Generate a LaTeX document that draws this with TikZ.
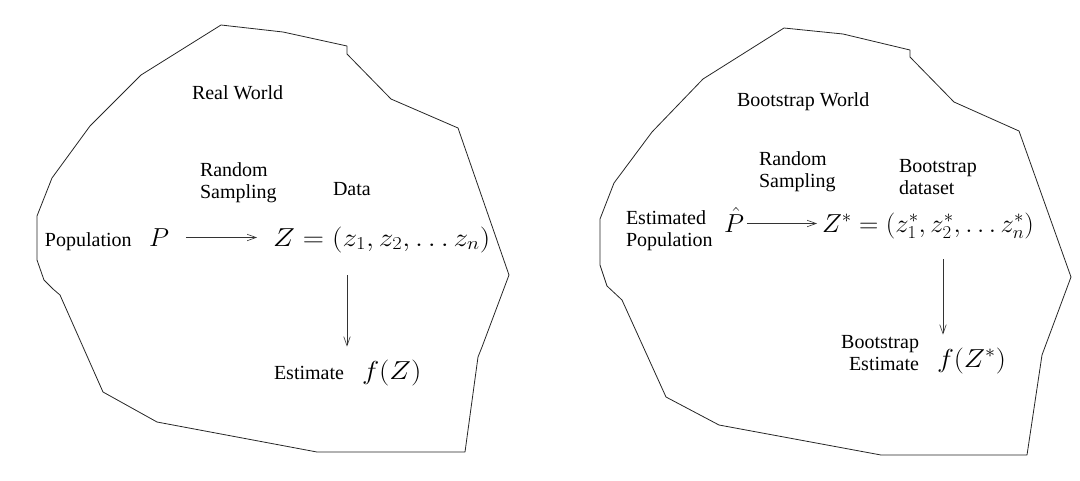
\RequirePackage{fix-cm}
\documentclass[tikz,border=0pt]{standalone}
\usepackage{graphicx}
\usepackage[no-math]{fontspec}
\setmainfont{Liberation Serif}
\newfontfamily\timesfont{Liberation Serif}
\usetikzlibrary{arrows.meta}
\tikzset{
  world/.style={draw=black!85, line width=0.8pt, line join=round},
  txt/.style={inner sep=0pt, outer sep=0pt, font=\timesfont\fontsize{20}{21.5}\selectfont},
  mth/.style={inner sep=0pt, outer sep=0pt, font=\fontsize{26}{30}\selectfont},
  arr/.style={draw=black!80, line width=0.7pt, -{Straight Barb[length=9pt,width=6.5pt,line width=0.6pt]}}
}
\begin{document}
\begin{tikzpicture}[x=1pt,y=-1pt]
\useasboundingbox (0,0) rectangle (1080,480);
% left world
\draw[world] (221,25) -- (283,32) -- (347,46) -- (347,54) -- (391,99) -- (458,128)
  -- (509,275) -- (482,347) -- (478,357) -- (465,452) -- (317,452) -- (157,422)
  -- (103,392) -- (60,295) -- (53,289) -- (44,280) -- (37,260) -- (37,216)
  -- (52,178) -- (90,126) -- (141,75) -- cycle;
% right world
\draw[world] (784,28) -- (843,34) -- (910,50) -- (910,57) -- (954,102) -- (1019,131)
  -- (1071,277) -- (1042,355) -- (1027,455) -- (881,455) -- (719,425)
  -- (666,397) -- (622,300) -- (607,286) -- (600,265) -- (600,219)
  -- (614,183) -- (652,132) -- (703,79) -- cycle;

% left texts
\node[txt, anchor=base west] (rw) at (192,99) {Real World};
\node[txt, anchor=base west] (rs1) at (200,198) {\begin{tabular}[b]{@{}l@{}}Random\\Sampling\end{tabular}};
\node[txt, anchor=base west] (data) at (333,195) {Data};
\node[txt, anchor=base west] (pop) at (45,246) {Population};
\node[mth, anchor=base west] (P) at (149,246) {$P$};
\node[mth, anchor=base west] (Z) at (273,246) {\scalebox{1.13}[1]{$Z=(z_1,z_2,\ldots z_n)$}};
\node[txt, anchor=base west] (est) at (274,379) {Estimate};
\node[mth, anchor=base west] (fZ) at (362,379) {\scalebox{1.12}[1]{$f(Z)$}};
\coordinate (ax1) at (347,0);
\draw[arr, shorten <=17pt, shorten >=16pt] ([yshift=8.5pt]P.base east) -- ([yshift=8.5pt]Z.base west);
\draw[arr, shorten <=23pt, shorten >=13pt] (Z.south -| ax1) -- (fZ.north -| ax1);

% right texts
\node[txt, anchor=base west] (bw) at (737,106) {Bootstrap World};
\node[txt, anchor=base west] (rs2) at (759,187) {\begin{tabular}[b]{@{}l@{}}Random\\Sampling\end{tabular}};
\node[txt, anchor=base west] (bd) at (899,194) {\begin{tabular}[b]{@{}l@{}}Bootstrap\\dataset\end{tabular}};
\node[txt, anchor=base west] (ep) at (626,246) {\begin{tabular}[b]{@{}l@{}}Estimated\\Population\end{tabular}};
\node[mth, anchor=base west] (Ph) at (724,232) {$\hat{P}$};
\node[mth, anchor=base west] (Zs) at (822,232) {\scalebox{1.03}[1]{$Z^*=(z^*_1,z^*_2,\ldots z^*_n)$}};
\node[txt, anchor=base east] (bse) at (919,370) {\begin{tabular}[b]{@{}r@{}}Bootstrap\\Estimate\end{tabular}};
\node[mth, anchor=base west] (fZs) at (937,367) {\scalebox{1.1}[1]{$f(Z^*)$}};
\coordinate (ax2) at (943,0);
\draw[arr, shorten <=3pt, shorten >=5pt] ([yshift=8.5pt]Ph.base east) -- ([yshift=8.5pt]Zs.base west);
\draw[arr, shorten <=21pt, shorten >=13pt] (Zs.south -| ax2) -- (fZs.north -| ax2);
\end{tikzpicture}
\end{document}
